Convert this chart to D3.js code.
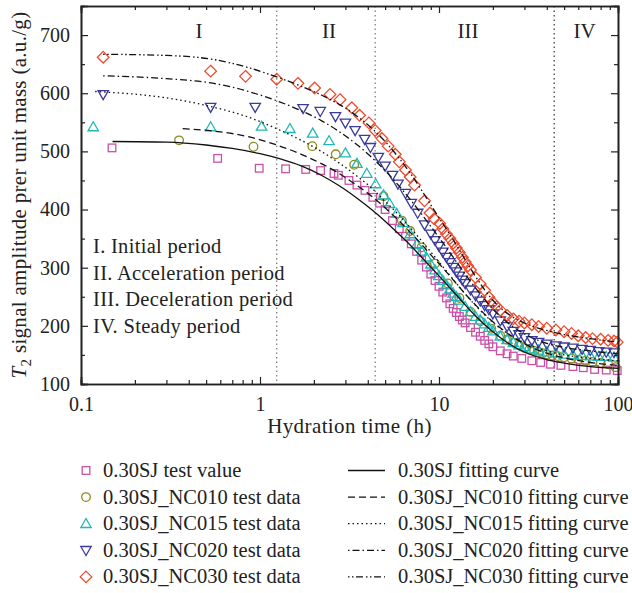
<!DOCTYPE html>
<html>
<head>
<meta charset="utf-8">
<script src="https://cdn.jsdelivr.net/npm/d3@7"></script>
<style>
  body { margin: 0; background: #fff; }
  svg { font-family: "Liberation Serif", "DejaVu Serif", serif; }
</style>
</head>
<body>
<svg width="632" height="593"></svg>
<script>
// test data, [hydration time (h), amplitude]
let sjTest = [[0.149,506],[0.58,488],[0.99,471],[1.39,470],[1.8,469],[2.18,467],[2.59,462],[2.74,459],[3.14,450],[3.48,442],[3.86,433],[4.27,421],[4.66,411],[5.0,400],[5.5,381],[6.0,367],[6.5,354],[7.0,341],[7.5,328],[8.0,313],[8.5,301],[9.0,289],[9.5,278],[10,268],[10.5,258],[11,248],[11.5,238],[12,230],[12.5,223],[13,216],[13.5,210],[14,205],[15,197],[16,189],[17,182],[18,175],[19,169],[20,164],[22,157],[24,152],[26,148],[29,144],[33,140],[37,137],[42,134],[48,132],[56,130],[64,128],[74,125],[86,124],[99,123]];
let nc010Test = [[0.353,519],[0.92,508],[1.96,509],[2.65,495],[3.36,477],[4.9,423],[6.2,381],[6.9,363],[8,335],[9.5,307],[11.2,273],[13,248],[15,224],[17,208],[19.6,195],[22,183],[24,176],[26,171],[28,166],[30,162],[32,159],[34,157],[36,155],[38,153],[40,151],[43,149],[46,148],[50,146],[55,144],[60,142],[66,140],[72,138],[80,136],[88,134],[97,129]];
let nc015Test = [[0.117,542],[0.53,542],[1.02,543],[1.47,539],[1.97,531],[2.43,518],[3.0,497],[3.48,479],[3.95,462],[4.43,444],[4.9,425],[5.3,410],[5.8,393],[6.3,377],[6.9,358],[7.5,340],[8,328],[8.5,318],[9,306],[9.5,296],[10,286],[10.5,278],[11,270],[11.5,263],[12,256],[12.5,250],[13,244],[14,233],[15,224],[16,216],[17,210],[18,203],[19,197],[20,191],[22,182],[24,176],[26,171],[28,167],[30,164],[33,160],[36,158],[40,155],[45,153],[50,151],[56,150],[63,149],[70,148],[78,147],[86,147],[95,146]];
let nc020Test = [[0.133,598],[0.53,576],[0.94,576],[1.74,574],[2.17,569],[2.64,560],[3.0,549],[3.4,536],[3.84,521],[4.14,507],[4.58,490],[5.0,475],[5.5,459],[5.9,444],[6.5,428],[7.0,411],[7.6,394],[8.3,374],[9.0,358],[9.5,347],[10,337],[10.5,327],[11,318],[11.5,309],[12,301],[12.5,293],[13,286],[13.5,279],[14,273],[15,262],[16,252],[17,243],[18,235],[19,228],[20,221],[22,209],[24,199],[26,191],[28,185],[30,180],[33,175],[36,172],[40,169],[45,166],[50,164],[56,162],[63,160],[70,158],[78,156],[86,155],[95,154]];
let nc030Test = [[0.133,662],[0.53,638],[0.83,629],[1.24,624],[1.63,617],[2.02,609],[2.46,598],[2.8,589],[3.26,575],[3.6,562],[4.06,549],[4.4,536],[4.8,522],[5.2,509],[5.7,495],[6.0,482],[6.5,468],[6.9,456],[7.3,442],[8.3,415],[8.9,394],[9.4,384],[10.1,376],[10.5,367],[11,358],[11.5,350],[12,342],[12.5,334],[13,326],[13.5,318],[14,310],[14.5,303],[15,296],[16,283],[17,272],[18,261],[19,249],[20,240],[21,233],[22,227],[24,218],[26,212],[28,208],[30,205],[33,202],[36,199],[40,196],[45,193],[50,190],[55,187],[60,183],[66,180],[72,178],[80,177],[88,175],[95,174],[99,172]];

// fitting curves
let sjFit = [[0.15,517],[0.3,516],[0.5,511],[0.7,505],[1,496],[1.3,487],[1.7,475],[2.2,459],[2.8,440],[3.5,419],[4.2,400],[5,380],[6,357],[7,337],[8,318],[9,301],[10,286],[12,259],[14,236],[16,217],[18,202],[20,190],[25,168],[30,155],[40,142],[50,136],[70,130],[100,127]];
let nc010Fit = [[0.37,539],[0.55,535],[0.84,526],[1.24,511],[1.7,495],[2.2,479],[2.8,461],[3.5,441],[4.2,423],[5,403],[6,380],[7,359],[8,340],[9,322],[10,307],[12,279],[14,255],[16,236],[18,220],[20,207],[25,184],[30,169],[40,153],[50,145],[70,137],[100,132]];
let nc015Fit = [[0.12,603],[0.3,592],[0.55,576],[0.84,560],[1.24,539],[1.7,519],[2.2,500],[2.8,479],[3.5,457],[4.2,437],[5,414],[6,390],[7,367],[8,346],[9,327],[10,310],[12,280],[14,255],[16,235],[18,219],[20,206],[25,184],[30,171],[40,157],[50,150],[70,144],[100,140]];
let nc020Fit = [[0.133,630],[0.3,625],[0.55,617],[0.84,604],[1.24,587],[1.7,570],[2.2,553],[2.8,533],[3.5,511],[4.2,490],[5,467],[6,440],[7,415],[8,392],[9,371],[10,352],[12,318],[14,289],[16,265],[18,245],[20,229],[25,202],[30,186],[40,170],[50,163],[70,157],[100,152]];
let nc030Fit = [[0.133,667],[0.3,665],[0.55,658],[0.84,645],[1.24,628],[1.7,612],[2.2,597],[2.8,580],[3.5,560],[4.2,540],[5,517],[6,488],[7,460],[8,433],[9,408],[10,386],[12,348],[14,314],[16,285],[18,262],[20,244],[25,218],[30,205],[40,192],[50,185],[70,178],[100,172]];

let testNames = ["0.30SJ test value","0.30SJ_NC010 test data","0.30SJ_NC015 test data","0.30SJ_NC020 test data","0.30SJ_NC030 test data"];
let fitNames = ["0.30SJ fitting curve","0.30SJ_NC010 fitting curve","0.30SJ_NC015 fitting curve","0.30SJ_NC020 fitting curve","0.30SJ_NC030 fitting curve"];
let periodBounds = [1.24, 4.4, 44];
let periodLabels = [["I",0.456],["II",2.43],["III",14.5],["IV",65]];
let periodNotes = ["I. Initial period","II. Acceleration period","III. Deceleration period","IV. Steady period"];
let xTickLabels = ["0.1","1","10","100"];
let yTickLabels = [100,200,300,400,500,600,700];

let colors = ["#cc4fa8","#8c8a1e","#1fb8b8","#3b3a9c","#ee4a2c"];
let shapes = ["square","circle","triangle","triangleDown","diamond"];
let dashes = [null, "7,4", "1.5,3", "1.5,3,7,3", "1.5,2.5,1.5,2.5,7,3"];

let margin = {left: 81, right: 14, top: 6, bottom: 209};
let width = 632, height = 593;

var svg = d3.select("svg");

var x = d3.scaleLog().domain([0.1, 100]).range([margin.left, width - margin.right]);
var y = d3.scaleLinear().domain([100, 750]).range([height - margin.bottom, margin.top]);

// symbols
function marker(sel, shape, color) {
  var s;
  if (shape == "square") s = sel.append("rect").attr("x", -3.8).attr("y", -3.8).attr("width", 7.6).attr("height", 7.6);
  else if (shape == "circle") s = sel.append("circle").attr("r", 4.3);
  else if (shape == "triangle") s = sel.append("path").attr("d", "M0,-5.2L5.2,3.8L-5.2,3.8Z");
  else if (shape == "triangleDown") s = sel.append("path").attr("d", "M0,5.2L5.2,-3.8L-5.2,-3.8Z");
  else s = sel.append("path").attr("d", "M0,-5.8L5.8,0L0,5.8L-5.8,0Z");
  s.attr("fill", "none").attr("stroke", color).attr("stroke-width", 1.3);
}

// period separators
svg.selectAll("line.period").data(periodBounds).enter().append("line")
  .attr("class", "period")
  .attr("x1", d => x(d)).attr("x2", d => x(d))
  .attr("y1", y.range()[1]).attr("y2", y.range()[0])
  .attr("stroke", (d, i) => i < 2 ? "#777" : "#333")
  .attr("stroke-width", 1.2)
  .attr("stroke-dasharray", "1.5,3");

svg.selectAll("text.plabel").data(periodLabels).enter().append("text")
  .attr("x", d => x(d[1])).attr("y", 38)
  .attr("text-anchor", "middle")
  .attr("font-size", 21).attr("fill", "#222")
  .text(d => d[0]);

svg.selectAll("text.note").data(periodNotes).enter().append("text")
  .attr("x", 93).attr("y", (d, i) => 253 + i * 26.5)
  .attr("font-size", 20.5).attr("letter-spacing", 0.3).attr("fill", "#222")
  .text(d => d);

// test data
let tests = [sjTest, nc010Test, nc015Test, nc020Test, nc030Test];
tests.forEach(function(data, k) {
  svg.append("g").selectAll("g").data(data).enter().append("g")
    .attr("transform", d => "translate(" + x(d[0]) + "," + y(d[1]) + ")")
    .each(function() { marker(d3.select(this), shapes[k], colors[k]); });
});

// fitting curves
let line = d3.line()
  .x(d => x(d[0]))
  .y(d => y(d[1]))
  .curve(d3.curveMonotoneX);
let fits = [sjFit, nc010Fit, nc015Fit, nc020Fit, nc030Fit];
fits.forEach(function(data, k) {
  svg.append("path").datum(data)
    .attr("fill", "none")
    .attr("stroke", "#111")
    .attr("stroke-width", 1.3)
    .attr("stroke-dasharray", dashes[k])
    .attr("d", line);
});

// axes, ticks inward
let xMinor = x.ticks().filter(t => xTickLabels.indexOf(String(t)) < 0);
let yMinor = d3.range(150, 750, 100);
let gx = svg.append("g").attr("transform", "translate(0," + y.range()[0] + ")");
gx.call(d3.axisBottom(x).tickValues([0.1, 1, 10, 100]).tickSize(-7).tickPadding(13).tickFormat((d, i) => xTickLabels[i]));
gx.append("g").call(d3.axisBottom(x).tickValues(xMinor).tickSize(-4).tickFormat(""));
let gxt = svg.append("g").attr("transform", "translate(0," + y.range()[1] + ")");
gxt.call(d3.axisTop(x).tickValues([0.1, 1, 10, 100]).tickSize(-7).tickFormat(""));
gxt.append("g").call(d3.axisTop(x).tickValues(xMinor).tickSize(-4).tickFormat(""));

let gy = svg.append("g").attr("transform", "translate(" + x.range()[0] + ",0)");
gy.call(d3.axisLeft(y).tickValues(yTickLabels).tickSize(-7).tickPadding(11));
gy.append("g").call(d3.axisLeft(y).tickValues(yMinor).tickSize(-4).tickFormat(""));
let gyr = svg.append("g").attr("transform", "translate(" + x.range()[1] + ",0)");
gyr.call(d3.axisRight(y).tickValues(yTickLabels).tickSize(-7).tickFormat(""));
gyr.append("g").call(d3.axisRight(y).tickValues(yMinor).tickSize(-4).tickFormat(""));

svg.selectAll(".domain").attr("stroke", "#222").attr("stroke-width", 1.6);
svg.selectAll(".tick line").attr("stroke", "#222").attr("stroke-width", 1.2);
svg.selectAll(".tick text").attr("font-family", "Liberation Serif").attr("font-size", 20).attr("fill", "#222");

// axis titles
svg.append("text")
  .attr("x", (x.range()[0] + x.range()[1]) / 2).attr("y", 433)
  .attr("text-anchor", "middle").attr("font-size", 21).attr("letter-spacing", 0.4).attr("fill", "#222")
  .text("Hydration time (h)");

let yt = svg.append("text")
  .attr("transform", "translate(26," + ((y.range()[0] + y.range()[1]) / 2) + ") rotate(-90)")
  .attr("text-anchor", "middle").attr("font-size", 21).attr("letter-spacing", 0.3).attr("fill", "#222");
yt.append("tspan").attr("font-style", "italic").text("T");
yt.append("tspan").attr("font-size", 15).attr("dy", 5).text("2");
yt.append("tspan").attr("dy", -5).text(" signal amplitude prer unit mass (a.u./g)");

// legend
let legY = d3.range(5).map(i => 470.5 + i * 26.6);
let legL = svg.append("g");
testNames.forEach(function(name, k) {
  let g = legL.append("g").attr("transform", "translate(86," + legY[k] + ")");
  marker(g, shapes[k], colors[k]);
  legL.append("text").attr("x", 103).attr("y", legY[k] + 6.5)
    .attr("font-size", 20.5).attr("fill", "#222").text(name);
});
fitNames.forEach(function(name, k) {
  legL.append("line")
    .attr("x1", 348).attr("x2", 385).attr("y1", legY[k]).attr("y2", legY[k])
    .attr("stroke", "#111").attr("stroke-width", 1.3)
    .attr("stroke-dasharray", dashes[k]);
  legL.append("text").attr("x", 398).attr("y", legY[k] + 6.5)
    .attr("font-size", 20.5).attr("fill", "#222").text(name);
});
</script>
</body>
</html>
